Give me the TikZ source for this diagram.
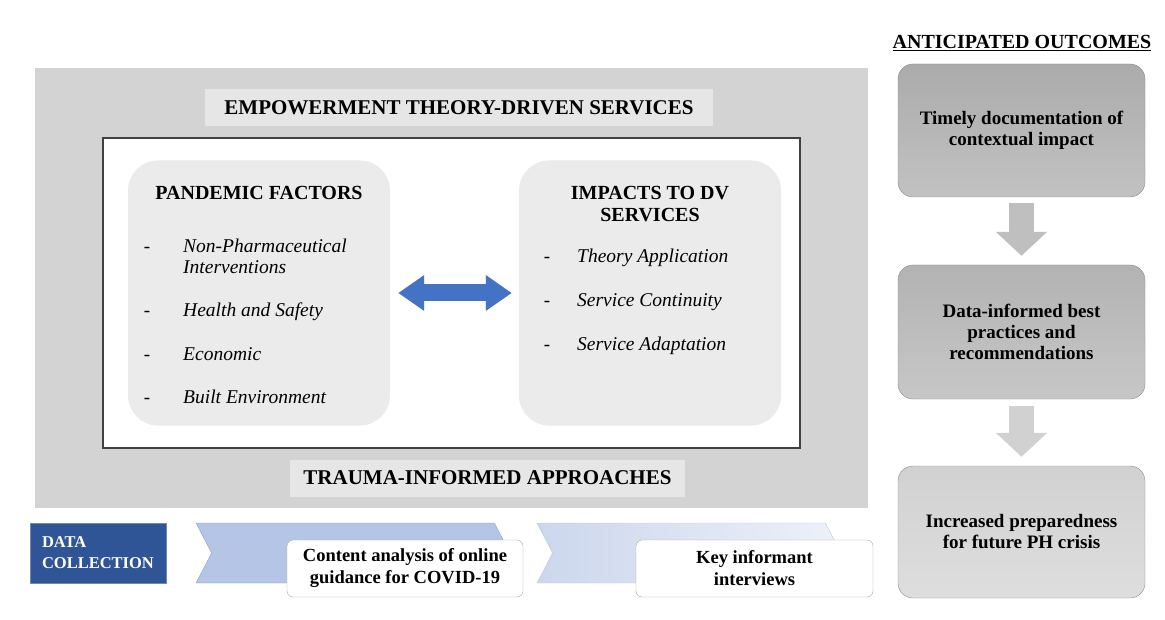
\documentclass[tikz,border=0pt]{standalone}
\usepackage{fontspec}
\setmainfont{Liberation Serif}
\usetikzlibrary{arrows.meta,shapes.symbols,positioning}

\definecolor{panelgray}{HTML}{D3D3D3}
\definecolor{headgray}{HTML}{E6E6E6}
\definecolor{boxgray}{HTML}{EBEBEB}
\definecolor{arrowblue}{HTML}{4472C4}
\definecolor{navy}{HTML}{2F5597}
\definecolor{chevblue}{HTML}{B4C5E6}
\definecolor{chevline}{HTML}{8FA5CC}
\definecolor{chevlight}{HTML}{CCD7ED}
\definecolor{outline}{HTML}{8C8C8C}

\tikzset{
  heading/.style={fill=headgray, minimum height=37pt, inner sep=0pt,
    font=\fontsize{21}{23}\selectfont\bfseries},
  factorbox/.style={fill=boxgray, rounded corners=30pt, minimum width=262pt,
    minimum height=265pt, inner sep=0pt},
  boxtitle/.style={align=center, font=\fontsize{20}{22}\selectfont\bfseries},
  dashmark/.style={anchor=base, inner sep=0pt, font=\fontsize{19}{22}\selectfont},
  item/.style={anchor=base west, inner sep=0pt,
    font=\fontsize{19.5}{22}\selectfont\itshape},
  chevron/.style={signal, signal from=west, signal to=east,
    signal pointer angle=125, minimum height=60pt, inner sep=0pt},
  stepbox/.style={fill=white, draw=black!35, rounded corners=6pt,
    minimum height=57pt, align=center, font=\fontsize{18.5}{22}\selectfont\bfseries},
  outcome/.style={draw=outline, rounded corners=15pt, minimum width=247pt,
    align=center, font=\fontsize{19}{21}\selectfont\bfseries},
  bigarrow/.style={arrowblue, line width=17pt,
    {Triangle[length=26pt,width=34pt]}-{Triangle[length=26pt,width=34pt]},
    shorten <=8pt, shorten >=7pt},
  downarrow/.style={line width=25pt, -{Triangle[length=24pt,width=50pt]}}
}

\begin{document}
\begin{tikzpicture}[x=1pt,y=-1pt]
  \useasboundingbox (0,0) rectangle (1165,620);

  % grey frame with the two approaches
  \node[fill=panelgray, minimum width=833pt, minimum height=440pt, inner sep=0pt] (panel) at (451.5,288) {};
  \node[heading, minimum width=508pt] (empower) at (459,107.5) {EMPOWERMENT THEORY-DRIVEN SERVICES};
  \node[heading, minimum width=395pt] (trauma) at (487.5,478) {TRAUMA-INFORMED APPROACHES};
  \node[fill=white, draw=black!75, line width=1.5pt, minimum width=697pt, minimum height=310pt] (frame) at (451.5,293) {};

  % pandemic factors
  \node[factorbox] (pf) at (259,293) {};
  \node[boxtitle] (pftitle) at (259,193) {PANDEMIC FACTORS};
  \node[dashmark] (pfd1) at (147,253) {-};
  \node[item] (pf1) at (183,253) {Non-Pharmaceutical};
  \node[item] (pf1b) at (183,274) {Interventions};
  \node[dashmark] (pfd2) at (147,317) {-};
  \node[item] (pf2) at (183,317) {Health and Safety};
  \node[dashmark] (pfd3) at (147,360) {-};
  \node[item] (pf3) at (183,360) {Economic};
  \node[dashmark] (pfd4) at (147,403) {-};
  \node[item] (pf4) at (183,403) {Built Environment};

  % impacts to services
  \node[factorbox] (imp) at (650,293) {};
  \node[boxtitle] (imptitle) at (650,204) {IMPACTS TO DV\\SERVICES};
  \node[dashmark] (impd1) at (547,263) {-};
  \node[item] (imp1) at (577,263) {Theory Application};
  \node[dashmark] (impd2) at (547,307) {-};
  \node[item] (imp2) at (577,307) {Service Continuity};
  \node[dashmark] (impd3) at (547,351) {-};
  \node[item] (imp3) at (577,351) {Service Adaptation};

  \draw[bigarrow] (pf) -- (imp);

  % data collection
  \node[fill=navy, draw=navy!70!white, minimum width=136pt, minimum height=60pt,
    text width=112pt, inner xsep=12pt, align=left, text=white,
    font=\fontsize{16.5}{21}\selectfont\bfseries] (data) at (98,553) {DATA\\COLLECTION};
  \node[chevron, fill=chevblue, draw=chevline, minimum width=314pt] (chev1) at (353,553) {};
  \node[chevron, left color=chevlight, right color=chevlight!35!white, draw=chevline!60!white,
    minimum width=304pt] (chev2) at (689,553) {};
  \node[stepbox, minimum width=236pt] (content) at (405,568.5) {Content analysis of online\\guidance for COVID-19};
  \node[stepbox, minimum width=237pt] (key) at (754.5,568.5) {Key informant\\interviews};

  % anticipated outcomes
  \node[font=\fontsize{20}{22}\selectfont\bfseries] (antic) at (1022,43) {\underline{ANTICIPATED OUTCOMES}};
  \node[outcome, minimum height=133pt, top color=black!33, bottom color=black!24] (out1) at (1021.5,130.5) {Timely documentation of\\contextual impact};
  \node[outcome, minimum height=134pt, top color=black!30, bottom color=black!22] (out2) at (1021.5,332) {Data-informed best\\practices and\\recommendations};
  \node[outcome, minimum height=132pt, top color=black!18, bottom color=black!13] (out3) at (1021.5,532) {Increased preparedness\\for future PH crisis};
  \draw[downarrow, black!25, shorten <=6pt, shorten >=9pt] (out1) -- (out2);
  \draw[downarrow, black!18, shorten <=7pt, shorten >=9pt] (out2) -- (out3);
\end{tikzpicture}
\end{document}
